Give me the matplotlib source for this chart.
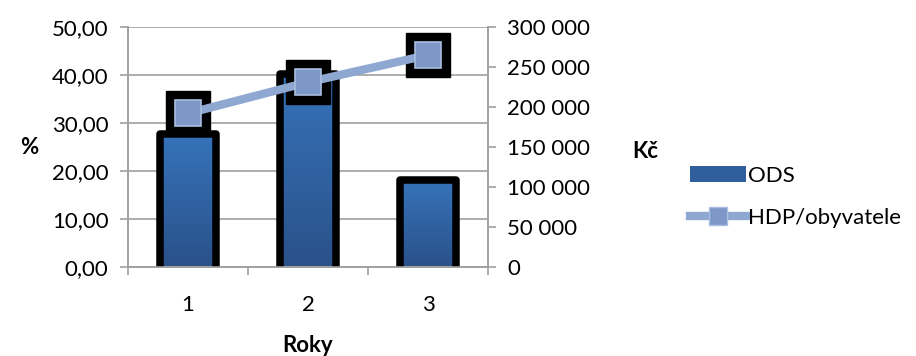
import numpy as np
import matplotlib.pyplot as plt
from matplotlib.patches import Rectangle, Patch
from matplotlib.lines import Line2D
from matplotlib.ticker import FuncFormatter, FixedLocator

plt.rcParams['font.family'] = ['Lato', 'DejaVu Sans']

# data
years = [1, 2, 3]
ods = [27.8, 40.2, 18.2]            # % (left axis)
hdp = [192000, 231000, 265000]      # Kč (right axis)

bar_top = "#3673BA"
bar_bot = "#2A5189"
line_col = "#8EA8D2"
grid_col = "#A0A0A0"
fs = 16

fig = plt.figure(figsize=(9.16, 3.56), dpi=100)
ax = fig.add_axes([128 / 916, 89 / 356, 360 / 916, 240 / 356])
ax2 = ax.twinx()

# bars with vertical gradient, black rounded outline (bottom edge hidden below axis)
grad = np.linspace(0, 1, 256).reshape(-1, 1)
cmap = plt.matplotlib.colors.LinearSegmentedColormap.from_list("b", [bar_bot, bar_top])
bw = 0.46
for x, v in zip(years, ods):
    rect = Rectangle((x - bw / 2, 0), bw, v, transform=ax.transData, facecolor="none")
    ax.add_patch(rect)
    im = ax.imshow(grad, extent=(x - bw / 2, x + bw / 2, 0, v), origin="lower",
                   cmap=cmap, aspect="auto", zorder=2)
    im.set_clip_path(rect)
    ax.add_patch(Rectangle((x - bw / 2, -3), bw, v + 3, facecolor="none", edgecolor="black",
                           linewidth=5.4, joinstyle="round", zorder=3))
ax.set_xlim(0.5, 3.5)
ax.set_ylim(0, 50)
ax2.set_ylim(0, 300000)

# grid & spines
ax.set_yticks(np.arange(0, 51, 10))
ax.grid(axis="y", color=grid_col, linewidth=1.2, zorder=0)
ax.set_axisbelow(True)
for a in (ax, ax2):
    a.spines["top"].set_visible(False)
    for s in ("left", "right", "bottom"):
        a.spines[s].set_color(grid_col)
        a.spines[s].set_linewidth(1.2)

ax.yaxis.set_major_formatter(FuncFormatter(lambda v, p: f"{v:.2f}".replace(".", ",")))
ax2.set_yticks(np.arange(0, 300001, 50000))
ax2.yaxis.set_major_formatter(FuncFormatter(lambda v, p: f"{int(v):,}".replace(",", " ")))

ax.set_xticks(years)
ax.set_xticklabels([str(y) for y in years])
ax.xaxis.set_minor_locator(FixedLocator([0.5, 1.5, 2.5, 3.5]))
ax.tick_params(axis="x", which="major", length=0, pad=20, labelsize=fs)
ax.tick_params(axis="x", which="minor", length=6, color=grid_col, width=1.2)
ax.tick_params(axis="y", length=6, color=grid_col, width=1.2, labelsize=fs, pad=8)
ax2.tick_params(axis="y", length=6, color=grid_col, width=1.2, labelsize=fs, pad=8)

# line series on right axis
ax2.plot(years, hdp, linestyle="none", marker="s", markersize=32, color="black", zorder=3)
ax2.plot(years, hdp, color=line_col, linewidth=6, zorder=4)
ax2.plot(years, hdp, linestyle="none", marker="s", markersize=19,
         markerfacecolor="#7D97C6", markeredgecolor="#A9BEE0", markeredgewidth=1.2, zorder=5)

# axis titles
fig.text(20 / 916, 1 - 147 / 356, "%", fontsize=fs, fontweight="bold", ha="left", va="center")
fig.text(632 / 916, 1 - 152 / 356, "Kč", fontsize=fs, fontweight="bold", ha="left", va="center")
fig.text(308 / 916, 1 - 346 / 356, "Roky", fontsize=fs, fontweight="bold", ha="center", va="center")

# legend
handles = [
    Patch(facecolor="#2F5E9C", edgecolor="none"),
    Line2D([0], [0], color=line_col, linewidth=6, marker="s", markersize=13,
           markerfacecolor="#7D97C6", markeredgecolor="#A9BEE0"),
]
fig.legend(handles, ["ODS", "HDP/obyvatele"], loc="center left",
           bbox_to_anchor=(690 / 916, 1 - 197 / 356), frameon=False, fontsize=fs,
           handlelength=2.5, handletextpad=0.1, labelspacing=1.0,
           borderpad=0, borderaxespad=0)

fig.savefig("out.png", dpi=100)
